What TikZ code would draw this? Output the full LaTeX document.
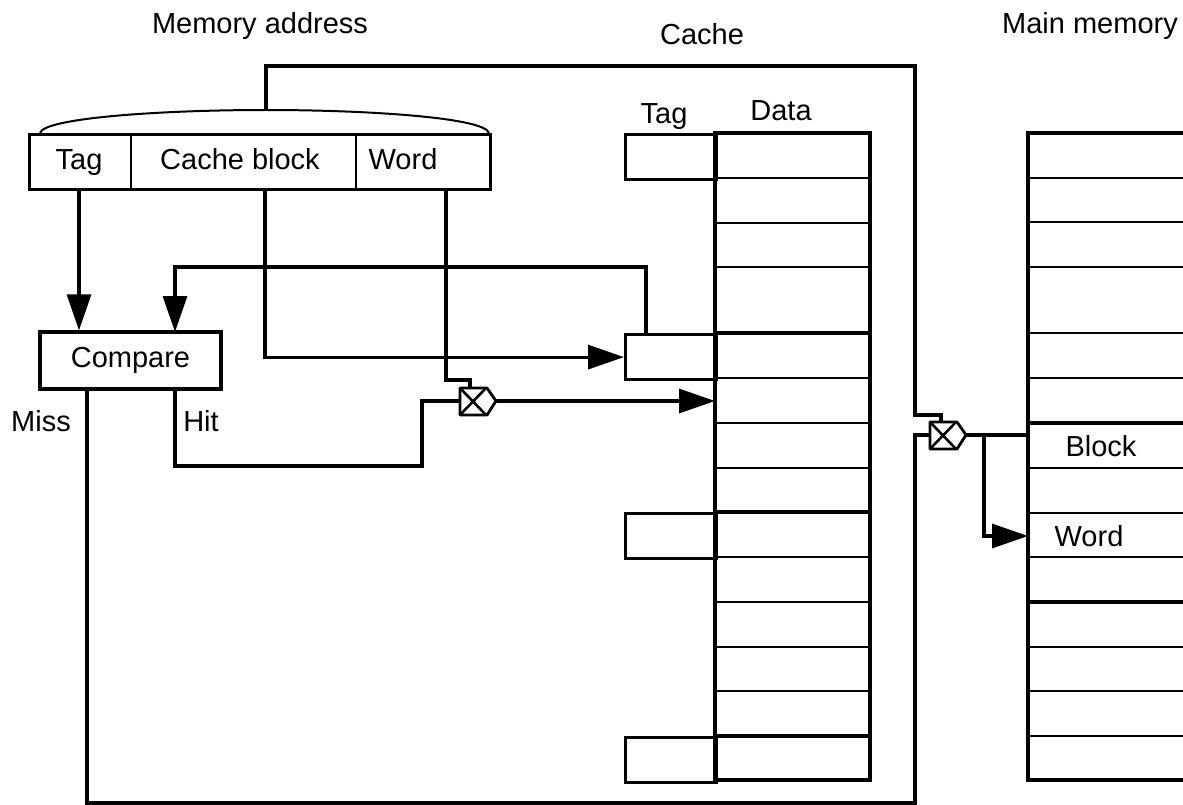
\documentclass[tikz,border=0pt]{standalone}
\usepackage{fontspec}
\setmainfont{Liberation Sans}
\usetikzlibrary{arrows.meta}
\tikzset{
  thickln/.style={line width=3.2pt},
  thinln/.style={line width=2pt},
  conn/.style={line width=3.2pt},
  arr/.style={conn,-{Triangle[length=36pt,width=24pt]}},
  lbl/.style={inner sep=0pt, anchor=base, font=\fontsize{29}{32}\selectfont},
  tagbox/.style={draw, line width=3.2pt, inner sep=0pt, minimum width=91pt, minimum height=45pt, anchor=north west},
  muxsym/.pic={
    \draw[line width=2.8pt, line join=round] (0,-13) -- (27,-13) -- (36,0) -- (27,14) -- (0,14) -- cycle;
    \draw[line width=2.6pt] (0,-13) -- (26,14) (0,14) -- (26,-13);
  }
}
\begin{document}
\begin{tikzpicture}[x=1pt,y=-1pt]
\useasboundingbox[fill=white] (0,0) rectangle (1183,805);

% titles
\node[lbl] (tma) at (260,33.5) {Memory address};
\node[lbl] (tc) at (702,45) {Cache};
\node[lbl] (tmm) at (1090,34) {Main memory};

% address register
\node[draw, line width=3.2pt, inner sep=0pt, minimum width=461pt, minimum height=55pt, anchor=north west] (addr) at (28,133) {};
\draw[thinln] (131,133) -- (131,188) (356,133) -- (356,188);
\node[lbl] (ftag) at (79,170) {Tag};
\node[lbl] (fblk) at (240,170) {Cache block};
\node[lbl] (fword) at (403,170) {Word};
\coordinate (atag) at (79,188);
\coordinate (ablk) at (265,188);
\coordinate (aword) at (446,188);

% brace
\coordinate (bp) at (266,110);
\draw[thinln] (40,133) .. controls (44,118) and (160,110) .. (bp) .. controls (372,110) and (485,118) .. (489,133);

% compare
\node[draw, line width=3.2pt, inner sep=0pt, minimum width=181pt, minimum height=57pt] (cmp) at (130.5,360.5) {};
\node[lbl] (cmptxt) at (130.5,367) {Compare};
\node[lbl] (miss) at (41,431) {Miss};
\node[lbl] (hit) at (201,431) {Hit};
\coordinate (missout) at (87,389);
\coordinate (hitout) at (175,389);
\coordinate (cmpin2) at (175,332);

% cache
\node[lbl] (ctag) at (664,124) {Tag};
\node[lbl] (cdata) at (781,121) {Data};
\draw[thinln] (715,178) -- (870,178) (715,223) -- (870,223) (715,267) -- (870,267)
  (715,378) -- (870,378) (715,423) -- (870,423) (715,468) -- (870,468)
  (715,557) -- (870,557) (715,602) -- (870,602) (715,647) -- (870,647) (715,691) -- (870,691);
\draw[thickln] (715,333) -- (870,333) (715,512) -- (870,512) (715,736) -- (870,736);
\draw[thickln] (715,133) rectangle (870,780);
\node[tagbox] (tag1) at (624,133) {};
\node[tagbox] (tag2) at (624,333) {};
\node[tagbox] (tag3) at (624,512) {};
\node[tagbox] (tag4) at (624,736) {};
\coordinate (t2up) at (646,333);
\coordinate (dword) at (715,401);

% main memory
\draw[thinln] (1028,178) -- (1183,178) (1028,222) -- (1183,222) (1028,267) -- (1183,267)
  (1028,333) -- (1183,333) (1028,378) -- (1183,378)
  (1028,468) -- (1183,468) (1028,513) -- (1183,513) (1028,557) -- (1183,557)
  (1028,647) -- (1183,647) (1028,691) -- (1183,691) (1028,736) -- (1183,736);
\draw[thickln] (1028,423) -- (1183,423) (1028,602) -- (1183,602);
\draw[thickln] (1184,133) -- (1028,133) -- (1028,780) -- (1184,780);
\node[lbl] (mblock) at (1101,456) {Block};
\node[lbl] (mword) at (1089,546) {Word};
\coordinate (mblk) at (1028,435);
\coordinate (mwd) at (1028,536);

% multiplexers
\pic at (460,401) {muxsym};
\pic at (930,435) {muxsym};
\coordinate (m1top) at (470,388);
\coordinate (m1in) at (460,401);
\coordinate (m1out) at (496,401);
\coordinate (m2top) at (941,422);
\coordinate (m2in) at (930,435);
\coordinate (m2out) at (965,435);
\coordinate (br) at (984,435);

% connectors
\draw[conn] (bp) -- (266,66) -- (915,66) -- (915,415) -| (m2top);
\draw[arr] (atag) -- (atag |- cmp.north);
\draw[arr] (ablk) |- (tag2.west);
\draw[conn] (aword) -- (446,380) -| (m1top);
\draw[arr] (t2up) -- (646,267) -| (cmpin2);
\draw[conn] (hitout) -- (175,466) -- (422,466) -- (422,401) -- (m1in);
\draw[arr] (m1out) -- (dword);
\draw[conn] (missout) -- (87,803) -- (915,803) -- (915,435) -- (m2in);
\draw[conn] (m2out) -- (mblk);
\draw[arr] (br) |- (mwd);
\end{tikzpicture}
\end{document}
